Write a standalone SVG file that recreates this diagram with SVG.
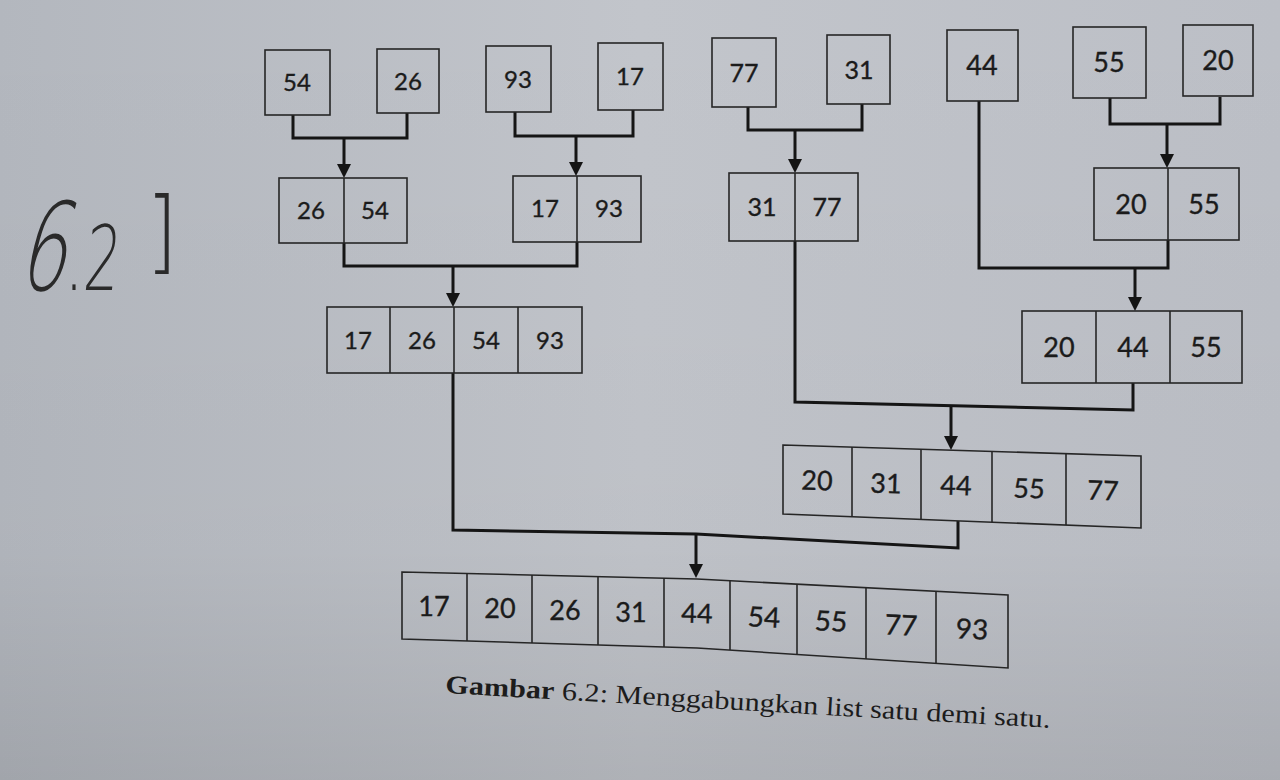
<svg xmlns="http://www.w3.org/2000/svg" width="1280" height="780" viewBox="0 0 1280 780">
<defs>
<linearGradient id="bgx" x1="0" y1="0" x2="1" y2="0">
<stop offset="0" stop-color="#b3b7be"/>
<stop offset="0.5" stop-color="#c2c5cb"/>
<stop offset="1" stop-color="#bcbfc6"/>
</linearGradient>
<linearGradient id="bgy" x1="0" y1="0" x2="0" y2="1">
<stop offset="0" stop-color="#000" stop-opacity="0"/>
<stop offset="0.7" stop-color="#000" stop-opacity="0.02"/>
<stop offset="1" stop-color="#000" stop-opacity="0.1"/>
</linearGradient>
<marker id="arr" viewBox="0 0 14 14" refX="4" refY="7" markerWidth="14" markerHeight="15" markerUnits="userSpaceOnUse" orient="auto">
<path d="M0,0 L14,7 L0,14 z" fill="#141414"/>
</marker>
<style>
.box{fill:none;stroke:#262626;stroke-width:1.6}
.dv{stroke:#262626;stroke-width:1.6}
.wire{fill:none;stroke:#151515;stroke-width:3;stroke-linejoin:miter}
.arrow{fill:none;stroke:#151515;stroke-width:3;marker-end:url(#arr)}
.num{font-family:Lato,"Open Sans","Liberation Sans",sans-serif;text-anchor:middle;fill:#1b1b1b;stroke:#1b1b1b;stroke-width:0.35}
.s24{font-size:24px}.s25{font-size:25px}.s27{font-size:27px}.s28{font-size:28px}
.cap{font-family:"Liberation Serif","DejaVu Serif",serif;font-size:26px;fill:#1c1c1c}
.hand{font-family:"DejaVu Sans",sans-serif;font-weight:200;fill:#2a2a2a}
</style>
</defs>
<rect x="0" y="0" width="1280" height="780" fill="url(#bgx)"/>
<rect x="0" y="0" width="1280" height="780" fill="url(#bgy)"/>

<g id="handwriting">
<text class="hand" font-size="122" transform="translate(16,290) skewX(-14) scale(0.62,1)">6</text>
<text class="hand" font-size="90" transform="translate(64,290) scale(0.7,1)">.</text>
<text class="hand" font-size="90" transform="translate(82,290) skewX(-6) scale(0.62,1)">2</text>
<text class="hand" font-size="90" transform="translate(146,262) scale(0.9,1)">]</text>
</g>

<g id="connectors">
<path class="wire" d="M293,115 V138 H407 V113"/>
<path class="arrow" d="M344,138 V168"/>
<path class="wire" d="M515,112 V136 H633 V110"/>
<path class="arrow" d="M576,136 V166"/>
<path class="wire" d="M748,107 V130 H862 V104"/>
<path class="arrow" d="M795,130 V163"/>
<path class="wire" d="M1110,98 V124 H1220 V97"/>
<path class="arrow" d="M1167,124 V158"/>
<path class="wire" d="M344,243 V266 H577 V242"/>
<path class="arrow" d="M453,266 V297"/>
<path class="wire" d="M979,101 V268 H1168 V240"/>
<path class="arrow" d="M1135,268 V301"/>
<path class="wire" d="M795,241 V402 L1133,410 V383"/>
<path class="arrow" d="M951,406 V440"/>
<path class="wire" d="M453,373 V530 L696,534 L958,548 V521"/>
<path class="arrow" d="M696,534 V568"/>
</g>

<g id="n54"><rect class="box" x="265" y="50" width="65" height="65"/><text class="num s24" x="297" y="91">54</text></g>
<g id="n26"><rect class="box" x="377" y="49" width="62" height="64"/><text class="num s24" x="408" y="90">26</text></g>
<g id="n93"><rect class="box" x="486" y="46" width="65" height="66"/><text class="num s24" x="518" y="88">93</text></g>
<g id="n17"><rect class="box" x="598" y="43" width="65" height="67"/><text class="num s24" x="630" y="85">17</text></g>
<g id="n77"><rect class="box" x="712" y="38" width="64" height="69"/><text class="num s25" x="744" y="82">77</text></g>
<g id="n31"><rect class="box" x="827" y="35" width="63" height="69"/><text class="num s25" x="859" y="79">31</text></g>
<g id="n44"><rect class="box" x="947" y="30" width="71" height="71"/><text class="num s27" x="982" y="75">44</text></g>
<g id="n55"><rect class="box" x="1073" y="27" width="73" height="71"/><text class="num s27" x="1109" y="72">55</text></g>
<g id="n20"><rect class="box" x="1183" y="25" width="70" height="71"/><text class="num s27" x="1218" y="70">20</text></g>

<g id="m2654"><rect class="box" x="279" y="178" width="128" height="65"/><line class="dv" x1="344" y1="178" x2="344" y2="243"/>
<text class="num s24" x="311" y="219">26</text><text class="num s24" x="375" y="219">54</text></g>
<g id="m1793"><rect class="box" x="513" y="176" width="128" height="66"/><line class="dv" x1="577" y1="176" x2="577" y2="242"/>
<text class="num s24" x="545" y="217">17</text><text class="num s24" x="609" y="217">93</text></g>
<g id="m3177"><rect class="box" x="729" y="173" width="129" height="68"/><line class="dv" x1="795" y1="173" x2="795" y2="241"/>
<text class="num s25" x="762" y="216">31</text><text class="num s25" x="827" y="216">77</text></g>
<g id="m2055"><rect class="box" x="1094" y="168" width="145" height="72"/><line class="dv" x1="1168" y1="168" x2="1168" y2="240"/>
<text class="num s27" x="1131" y="214">20</text><text class="num s27" x="1204" y="214">55</text></g>

<g id="m17265493"><rect class="box" x="327" y="307" width="255" height="66"/>
<line class="dv" x1="390" y1="307" x2="390" y2="373"/><line class="dv" x1="454" y1="307" x2="454" y2="373"/><line class="dv" x1="518" y1="307" x2="518" y2="373"/>
<text class="num s24" x="358" y="349">17</text><text class="num s24" x="422" y="349">26</text><text class="num s24" x="486" y="349">54</text><text class="num s24" x="550" y="349">93</text></g>

<g id="m204455"><rect class="box" x="1022" y="311" width="220" height="72"/>
<line class="dv" x1="1096" y1="311" x2="1096" y2="383"/><line class="dv" x1="1170" y1="311" x2="1170" y2="383"/>
<text class="num s27" x="1059" y="357">20</text><text class="num s27" x="1133" y="357">44</text><text class="num s27" x="1206" y="357">55</text></g>

<g id="m2031445577"><polygon class="box" points="783,445 1141,456 1141,528 783,514"/>
<line class="dv" x1="852" y1="447" x2="852" y2="517"/><line class="dv" x1="921" y1="449" x2="921" y2="519"/><line class="dv" x1="992" y1="451" x2="992" y2="522"/><line class="dv" x1="1066" y1="454" x2="1066" y2="525"/>
<text class="num s27" x="817" y="490" transform="rotate(1.8 817 481)">20</text>
<text class="num s27" x="886" y="493" transform="rotate(1.8 886 483)">31</text>
<text class="num s27" x="956" y="495" transform="rotate(1.8 956 486)">44</text>
<text class="num s27" x="1029" y="498" transform="rotate(1.8 1029 488)">55</text>
<text class="num s27" x="1103" y="500" transform="rotate(1.8 1103 491)">77</text></g>

<g id="m_final"><polygon class="box" points="402,572 697,579 1008,595 1008,668 697,648 402,639"/>
<line class="dv" x1="467" y1="573.5" x2="467" y2="641"/>
<line class="dv" x1="532" y1="575" x2="532" y2="643"/>
<line class="dv" x1="598" y1="576.6" x2="598" y2="645"/>
<line class="dv" x1="664" y1="578.2" x2="664" y2="647"/>
<line class="dv" x1="730" y1="580.7" x2="730" y2="650"/>
<line class="dv" x1="797" y1="584.1" x2="797" y2="654.4"/>
<line class="dv" x1="866" y1="587.7" x2="866" y2="658.9"/>
<line class="dv" x1="936" y1="591.3" x2="936" y2="663.4"/>
<text class="num s27" x="434" y="616">17</text>
<text class="num s27" x="500" y="618">20</text>
<text class="num s27" x="565" y="620">26</text>
<text class="num s27" x="631" y="622">31</text>
<text class="num s27" x="697" y="623" transform="rotate(1.5 697 613)">44</text>
<text class="num s28" x="764" y="627" transform="rotate(3 764 617)">54</text>
<text class="num s28" x="831" y="631" transform="rotate(3 831 621)">55</text>
<text class="num s28" x="901" y="635" transform="rotate(3 901 625)">77</text>
<text class="num s28" x="972" y="639" transform="rotate(3 972 629)">93</text></g>

<g id="caption"><text class="cap" x="445" y="693" transform="rotate(3.3 445 693)" textLength="606" lengthAdjust="spacingAndGlyphs"><tspan font-weight="bold">Gambar</tspan> 6.2: Menggabungkan list satu demi satu.</text></g>
</svg>
